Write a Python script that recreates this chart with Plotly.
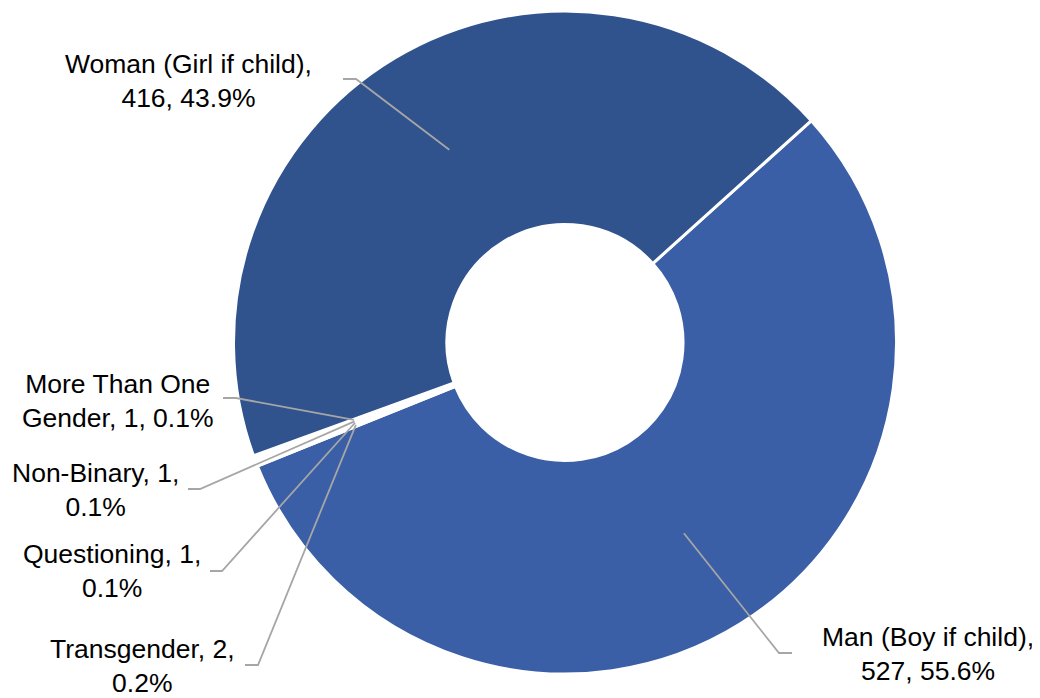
import math
import plotly.graph_objects as go

# ---- data ----
categories = ["Man (Boy if child)", "Transgender", "Questioning", "Non-Binary",
              "More Than One Gender", "Woman (Girl if child)"]
counts = [527, 2, 1, 1, 1, 416]
percents = ["55.6%", "0.2%", "0.1%", "0.1%", "0.1%", "43.9%"]
label_texts = [
    "Man (Boy if child),<br>527, 55.6%",
    "Transgender, 2,<br>0.2%",
    "Questioning, 1,<br>0.1%",
    "Non-Binary, 1,<br>0.1%",
    "More Than One<br>Gender, 1, 0.1%",
    "Woman (Girl if child),<br>416, 43.9%",
]
colors = ["#3A5FA6", "#FFFFFF", "#FFFFFF", "#FFFFFF", "#FFFFFF", "#30538E"]

# ---- layout constants (pixels, in the screenshot frame) ----
W, H = 1040, 698
OFF = 8  # page body margin
CX, CY, R = 565.0, 342.5, 331.5
HOLE = 0.356
ROTATION = 48.0

# label placement: (center x, center y) and leader (elbow x, end x, y)
label_pos = [(927.5, 654), (142, 666), (112, 571), (95, 490), (118, 401), (188, 81)]
leader_pts = [(779, 792, 653), (258, 245, 665), (222, 210, 571), (200, 188, 489),
              (236, 223, 398), (356, 343, 79)]


def px(x):
    return (x - OFF) / W


def py(y):
    return 1 - (y - OFF) / H


fig = go.Figure(go.Pie(
    labels=categories,
    values=counts,
    sort=False,
    direction="clockwise",
    rotation=ROTATION,
    hole=HOLE,
    marker=dict(colors=colors, line=dict(color="white", width=3)),
    textinfo="none",
    hoverinfo="label+value+percent",
    showlegend=False,
    domain=dict(x=[px(CX - R), px(CX + R)], y=[py(CY + R), py(CY - R)]),
))

total = sum(counts)
annotations = []
shapes = []
cum = 0.0
r_mid = R * (1 + HOLE) / 2
for i, v in enumerate(counts):
    mid = ROTATION + (cum + v / 2) / total * 360.0
    cum += v
    a = math.radians(mid)
    ax = CX + r_mid * math.sin(a)
    ay = CY - r_mid * math.cos(a)
    ex, endx, ly = leader_pts[i]
    shapes.append(dict(
        type="path", xref="paper", yref="paper",
        path=f"M {px(ax)},{py(ay)} L {px(ex)},{py(ly)} L {px(endx)},{py(ly)}",
        line=dict(color="#A6A6A6", width=1.8),
    ))
    lx, lyc = label_pos[i]
    annotations.append(dict(
        x=px(lx), y=py(lyc), xref="paper", yref="paper",
        text=label_texts[i], showarrow=False, align="center",
        xanchor="center", yanchor="middle",
        font=dict(family="Liberation Sans, Arial, sans-serif", size=26.5, color="#000000"),
    ))

fig.update_layout(
    width=W, height=H,
    margin=dict(l=0, r=0, t=0, b=0),
    paper_bgcolor="white",
    plot_bgcolor="white",
    annotations=annotations,
    shapes=shapes,
)

fig.write_html("out.html")
